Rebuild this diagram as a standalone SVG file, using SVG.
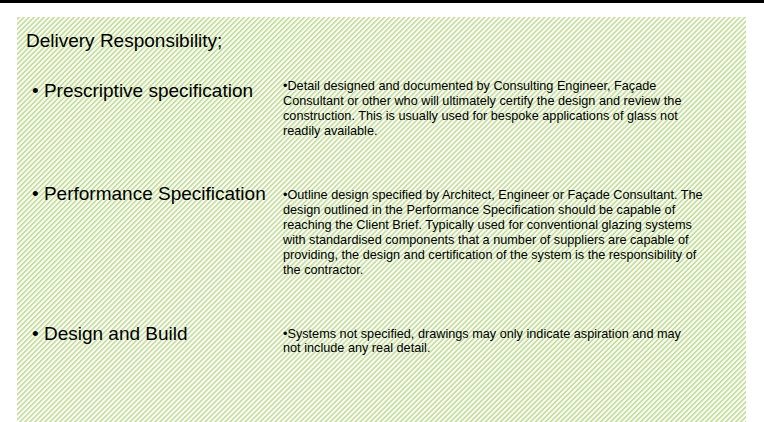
<svg xmlns="http://www.w3.org/2000/svg" width="764" height="422" viewBox="0 0 764 422">
  <defs>
    <pattern id="hatch" patternUnits="userSpaceOnUse" width="3.54" height="10" patternTransform="rotate(45)">
      <rect x="0" y="0" width="3.54" height="10" fill="#ffffff"/>
      <rect x="0" y="0" width="1.7" height="10" fill="#c4df9a"/>
    </pattern>
  </defs>
  <style>
    .big { font-family: "Liberation Sans", Arial, sans-serif; font-size: 19px; fill: #000; }
    .small { font-family: "Liberation Sans", Arial, sans-serif; font-size: 12.7px; fill: #000; }
  </style>
  <rect x="0" y="0" width="764" height="3" fill="#000"/>
  <rect id="panel" x="17" y="17" width="729" height="405" fill="url(#hatch)"/>
  <g id="title">
    <text class="big" x="26" y="47">Delivery Responsibility;</text>
  </g>
  <g id="prescriptive">
    <text class="big" x="32" y="97">• Prescriptive specification</text>
    <text class="small" x="283">
      <tspan x="283" y="90">•Detail designed and documented by Consulting Engineer, Façade</tspan>
      <tspan x="283" y="105">Consultant or other who will ultimately certify the design and review the</tspan>
      <tspan x="283" y="120">construction. This is usually used for bespoke applications of glass not</tspan>
      <tspan x="283" y="135">readily available.</tspan>
    </text>
  </g>
  <g id="performance">
    <text class="big" x="32" y="200">• Performance Specification</text>
    <text class="small" x="283">
      <tspan x="283" y="199">•Outline design specified by Architect, Engineer or Façade Consultant. The</tspan>
      <tspan x="283" y="214">design outlined in the Performance Specification should be capable of</tspan>
      <tspan x="283" y="229">reaching the Client Brief. Typically used for conventional glazing systems</tspan>
      <tspan x="283" y="244">with standardised components that a number of suppliers are capable of</tspan>
      <tspan x="283" y="259">providing, the design and certification of the system is the responsibility of</tspan>
      <tspan x="283" y="274">the contractor.</tspan>
    </text>
  </g>
  <g id="design-build">
    <text class="big" x="32" y="340">• Design and Build</text>
    <text class="small" x="283">
      <tspan x="283" y="338">•Systems not specified, drawings may only indicate aspiration and may</tspan>
      <tspan x="283" y="352">not include any real detail.</tspan>
    </text>
  </g>
  <g id="connectors"/>
</svg>
